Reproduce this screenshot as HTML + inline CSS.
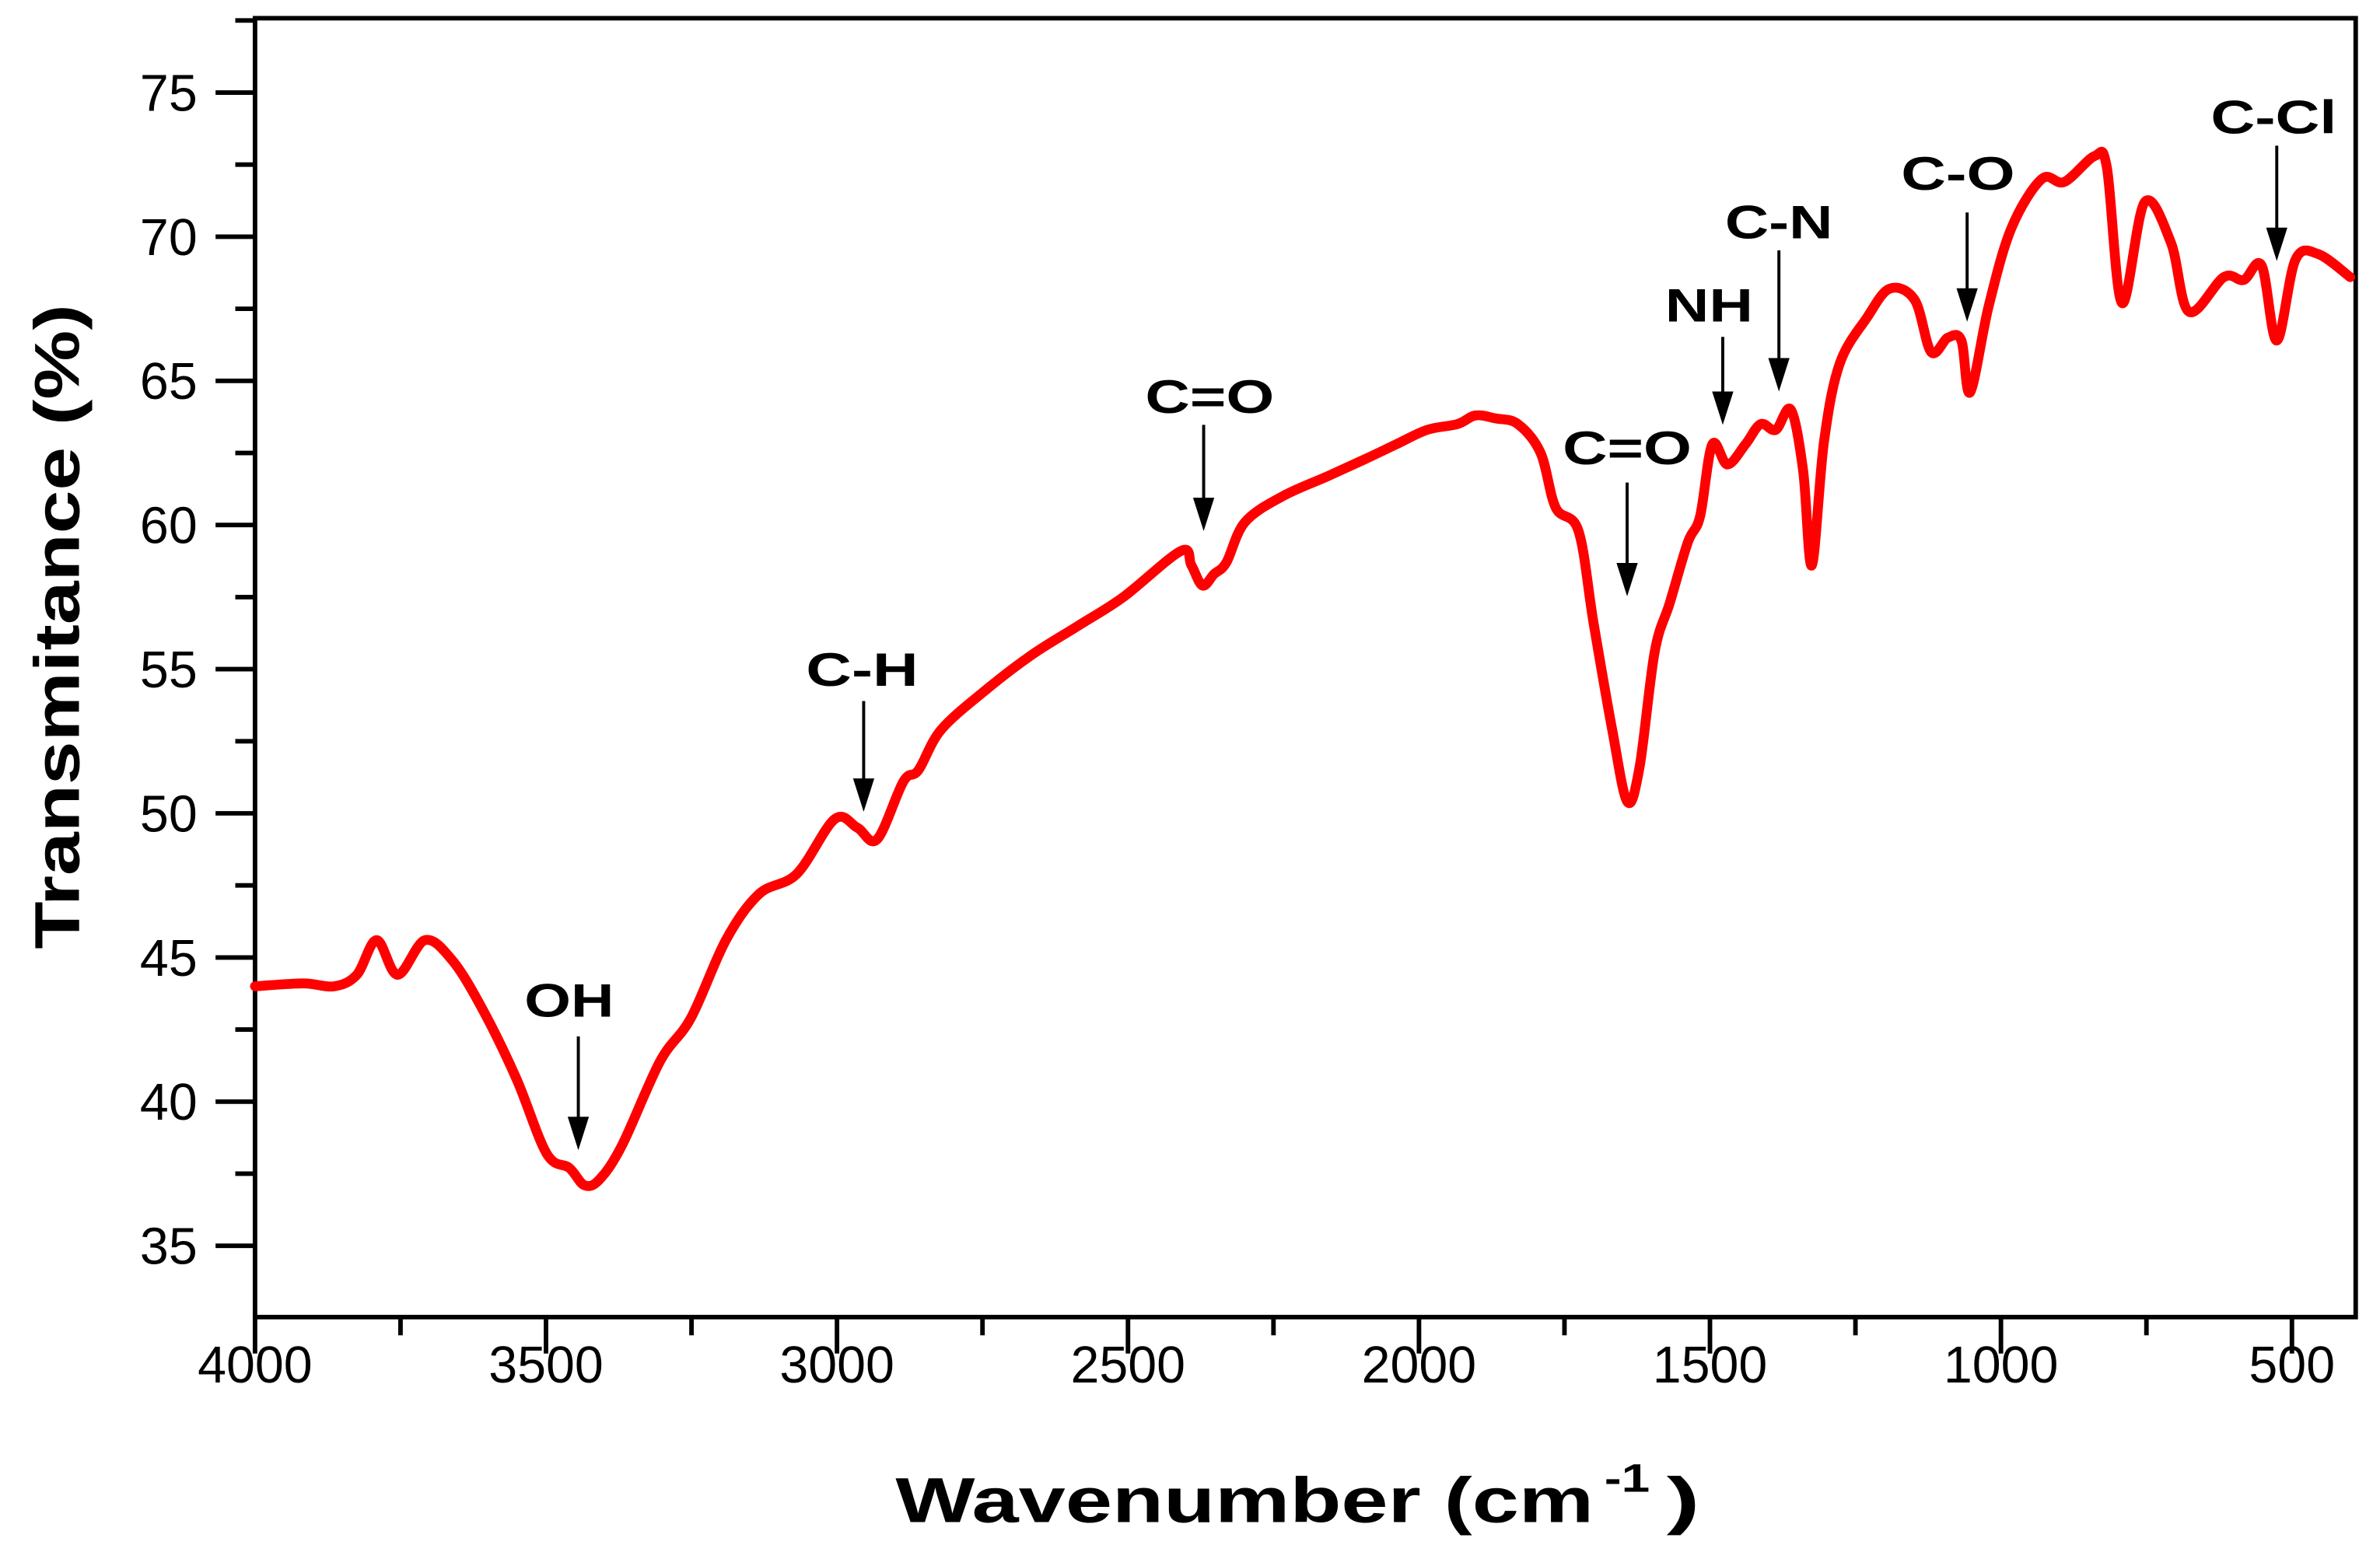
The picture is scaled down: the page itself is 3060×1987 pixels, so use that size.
<!DOCTYPE html>
<html><head><meta charset="utf-8"><style>
html,body{margin:0;padding:0;background:#fff;}
svg{display:block;font-family:"Liberation Sans",Arial,sans-serif;}
</style></head><body>
<svg id="chart" width="3060" height="1987" viewBox="0 0 1568 1018.2" xmlns="http://www.w3.org/2000/svg">
<g id="axes"></g>
<path id="spectrum" fill="none" stroke="#ff0000" stroke-width="6.5" stroke-linejoin="round" stroke-linecap="round"/>
<g id="ann"></g>
<text x="590" y="1003" font-weight="bold" font-size="42" textLength="460" lengthAdjust="spacingAndGlyphs">Wavenumber (cm</text>
<text x="1057" y="983" font-weight="bold" font-size="26" textLength="30" lengthAdjust="spacingAndGlyphs">-1</text>
<text x="1098" y="1003" font-weight="bold" font-size="42" textLength="22" lengthAdjust="spacingAndGlyphs">)</text>
<text transform="translate(52,413) rotate(-90)" text-anchor="middle" font-weight="bold" font-size="42" textLength="425" lengthAdjust="spacingAndGlyphs">Transmitance (%)</text>
</svg>
<script>
const wavenumbers=[4000,3917,3864,3825,3791,3755,3708,3661,3609,3551,3499,3460,3434,3408,3369,3304,3251,3191,3134,3069,3004,2965,2931,2886,2860,2821,2743,2665,2586,2508,2409,2391,2372,2352,2331,2299,2234,2156,2091,2039,1986,1934,1903,1869,1830,1791,1765,1726,1700,1668,1642,1621,1595,1569,1538,1517,1496,1470,1439,1413,1387,1361,1340,1325,1304,1277,1230,1191,1148,1120,1091,1068,1053,1021,982,930,891,839,818,792,753,708,677,617,583,552,526,494,455,400];
const transmittance=[44.0,44.1,44.0,44.4,45.6,44.4,45.6,44.9,43.2,40.8,38.2,37.7,37.1,37.3,38.5,41.4,42.9,45.6,47.2,47.9,49.8,49.5,49.1,51.1,51.5,52.9,54.3,55.5,56.5,57.5,59.1,58.6,57.9,58.3,58.7,60.1,61.0,61.7,62.3,62.8,63.3,63.5,63.8,63.7,63.5,62.5,60.6,59.8,56.6,52.9,50.4,51.6,55.6,57.3,59.4,60.3,62.8,62.1,62.8,63.5,63.3,64.0,61.9,58.6,62.9,65.6,67.2,68.2,67.8,66.0,66.5,66.4,64.6,67.6,70.3,72.0,71.9,72.8,72.4,67.7,71.2,69.8,67.4,68.6,68.5,69.0,66.4,69.2,69.4,68.6];
const xTicks=[4000,3500,3000,2500,2000,1500,1000,500];
const yTicks=[35,40,45,50,55,60,65,70,75];

const L=168,R=1552,T=12,B=868;
const sx=w=>168+(4000-w)*(1342/3500);
const sy=v=>61+(75-v)*19;
const NS="http://www.w3.org/2000/svg";
function mk(tag,attrs,parent){const e=document.createElementNS(NS,tag);for(const k in attrs)e.setAttribute(k,attrs[k]);parent.appendChild(e);return e;}
const ax=document.getElementById('axes');
const frame=mk('rect',{x:L,y:T,width:R-L,height:B-T,fill:'none',stroke:'#000','stroke-width':3},ax);


xTicks.forEach(v=>{const x=sx(v);
 const t=mk('line',{x1:x,x2:x,y1:B,y2:B+24,stroke:'#000','stroke-width':3},ax);
 
 
 const lb=mk('text',{x:x,y:911,'text-anchor':'middle','font-size':34},ax);lb.textContent=v;
 
 
 const mx=sx(v-250); if(mx<R){const m=mk('line',{x1:mx,x2:mx,y1:B,y2:B+12,stroke:'#000','stroke-width':3},ax);
 
 }
});
yTicks.forEach(v=>{const y=sy(v);
 const t=mk('line',{x1:L-26,x2:L,y1:y,y2:y,stroke:'#000','stroke-width':3},ax);
 
 
 const lb=mk('text',{x:130,y:y+12,'text-anchor':'end','font-size':34},ax);lb.textContent=v;
 
 
});
for(let v=32.5;v<=77.5;v+=5){const y=sy(v);if(y<=T||y>=B)continue;
 const m=mk('line',{x1:L-13,x2:L,y1:y,y2:y,stroke:'#000','stroke-width':3},ax);
 
 }
const pts=wavenumbers.map((w,i)=>[sx(w),sy(transmittance[i])]);
let d='M'+pts[0][0]+','+pts[0][1];
for(let i=0;i<pts.length-1;i++){const p0=pts[Math.max(i-1,0)],p1=pts[i],p2=pts[i+1],p3=pts[Math.min(i+2,pts.length-1)];
 const c1=[p1[0]+(p2[0]-p0[0])/6,p1[1]+(p2[1]-p0[1])/6],c2=[p2[0]-(p3[0]-p1[0])/6,p2[1]-(p3[1]-p1[1])/6];
 d+=`C${c1[0]},${c1[1]} ${c2[0]},${c2[1]} ${p2[0]},${p2[1]}`;}
document.getElementById('spectrum').setAttribute('d',d);
const ann=document.getElementById('ann');
[["OH",375,670,381,683,758,59],["C-H",568,452,569,462,535,74],["C=O",797,272,793,280,350,85],["C=O",1072,306,1072,318,393,85],["NH",1126,212,1135,222,280,58],["C-N",1172,157,1172,165,258,71],["C-O",1290,125,1296,140,212,75],["C-Cl",1498,88,1500,96,172,83]].forEach(a=>{
 const g=mk('g',{},ann);
 
 
 const t=mk('text',{x:a[1]-a[6]/2,y:a[2],'font-weight':'bold','font-size':31,textLength:a[6],lengthAdjust:'spacingAndGlyphs'},g);t.textContent=a[0];
 mk('line',{x1:a[3],x2:a[3],y1:a[4],y2:a[5]-18,stroke:'#000','stroke-width':2},g);
 mk('polygon',{points:`${a[3]-7},${a[5]-22} ${a[3]+7},${a[5]-22} ${a[3]},${a[5]}`,fill:'#000'},g);
});
</script>
</body></html>
